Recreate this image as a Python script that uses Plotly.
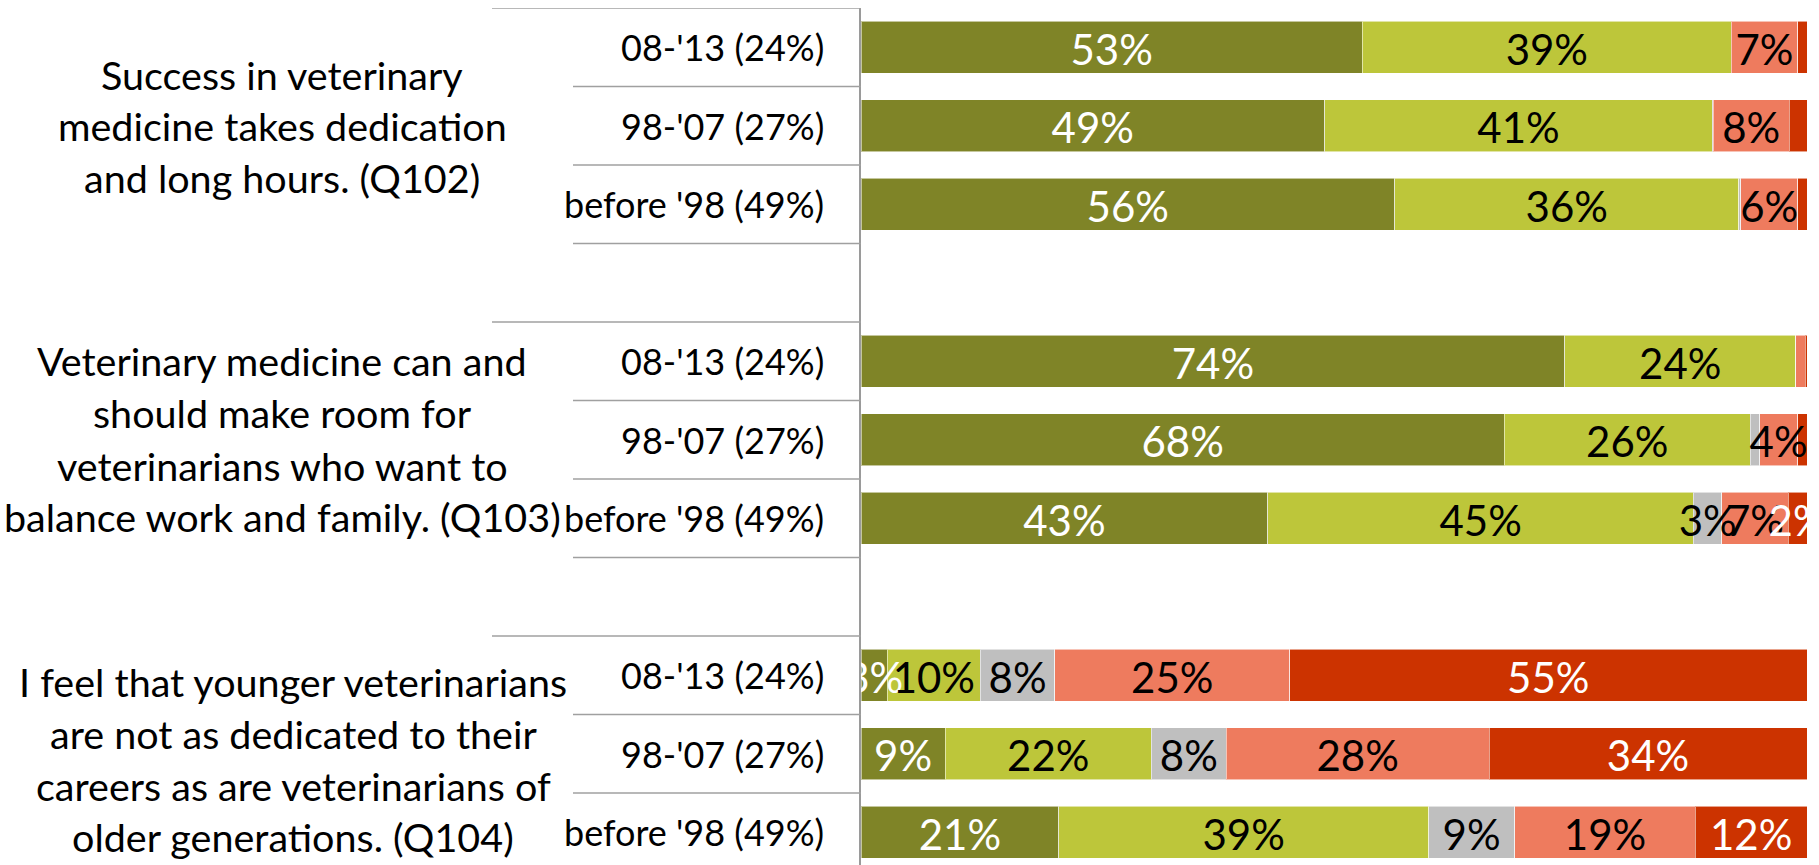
import plotly.graph_objects as go

# ---------------- data ----------------
cohorts = ["08-'13 (24%)", "98-'07 (27%)", "before '98 (49%)"]
questions = [
    ["Success in veterinary", "medicine takes dedication", "and long hours. (Q102)"],
    ["Veterinary medicine can and", "should make room for",
     "veterinarians who want to", "balance work and family. (Q103)"],
    ["I feel that younger veterinarians", "are not as dedicated to their",
     "careers as are veterinarians of", "older generations. (Q104)"],
]
series_names = ["Strongly agree", "Agree", "Neutral", "Disagree", "Strongly disagree"]

# rows top->bottom: Q102 x3, Q103 x3, Q104 x3
strongly_agree    = [53, 49, 56.4, 74.4, 68, 43, 2.8, 8.9, 20.9]
agree             = [39, 41, 36.4, 24.4, 26, 45, 9.8, 21.8, 39.1]
neutral           = [0, 0.1, 0.2, 0, 1, 3, 7.9, 7.9, 9.1]
disagree          = [7, 8, 6, 1, 4, 7, 24.8, 27.8, 19.1]
strongly_disagree = [1, 1.9, 1, 0.2, 1, 2, 54.7, 33.6, 11.8]

series_values = [strongly_agree, agree, neutral, disagree, strongly_disagree]

# ---------------- styles ----------------
colors = ["#7F8427", "#BDC63A", "#BFBFBF", "#EE7B5E", "#CC3300"]
text_colors = ["white", "black", "black", "black", "white"]
FONT = "Lato, Carlito, Calibri, sans-serif"

# slot positions (one empty slot between question groups)
row_pos = []
for g in range(3):
    for r in range(3):
        row_pos.append(g * 4 + r)

fig = go.Figure()
for name, vals, col in zip(series_names, series_values, colors):
    fig.add_trace(go.Bar(
        y=row_pos, x=vals, orientation="h", name=name,
        marker=dict(color=col, line=dict(color="rgba(255,255,255,0.55)", width=1)),
        hoverinfo="skip",
    ))

# data labels drawn on top of all bars (centred in each stacked segment)
LABEL_DY = 0.09  # slight downward nudge (visual centring of digits)
lab_x, lab_y, lab_t, lab_c = [], [], [], []
for r, p in enumerate(row_pos):
    cum = 0
    for vals, tcol in zip(series_values, text_colors):
        v = vals[r]
        if v >= 2:
            lab_x.append(cum + v / 2)
            lab_y.append(p + LABEL_DY)
            lab_t.append(f"{v:.0f}%")
            lab_c.append(tcol)
        cum += v
fig.add_trace(go.Scatter(
    x=lab_x, y=lab_y, text=lab_t, mode="text", textposition="middle center",
    textfont=dict(family=FONT, size=42, color=lab_c), cliponaxis=True,
    hoverinfo="skip", showlegend=False,
))

L, R, T = 861, 12, 8
W, H = 1819, 865
PW = W - L - R
slot_px = 78.5
bottom_edge = 10.5 - (T + 11 * slot_px - H) / slot_px

fig.update_layout(
    barmode="stack", bargap=0.34,
    width=W, height=H,
    margin=dict(l=L, r=R, t=T, b=0, pad=0),
    paper_bgcolor="white", plot_bgcolor="white",
    showlegend=False,
    xaxis=dict(range=[0, 100], visible=False, fixedrange=True),
    yaxis=dict(range=[bottom_edge, -0.5], showticklabels=False, showgrid=False,
               zeroline=False, showline=True, linecolor="#9A9A9A", linewidth=2,
               ticks="", fixedrange=True),
    font=dict(family=FONT, color="black"),
)

def px_to_paper_x(px):
    return (px - L) / PW

def px_to_paper_y(py):
    return 1 - (py - T) / (H - T)

# separator lines
long_x0 = px_to_paper_x(492)
short_x0 = px_to_paper_x(573)
for b in [-0.5, 0.5, 1.5, 2.5, 3.5, 4.5, 5.5, 6.5, 7.5, 8.5, 9.5]:
    x0 = long_x0 if b in (-0.5, 3.5, 7.5) else short_x0
    fig.add_shape(type="line", xref="paper", yref="y", x0=x0, x1=0, y0=b, y1=b,
                  line=dict(color="#A0A0A0", width=1.5), layer="above")

# cohort labels
for i, p in enumerate(row_pos):
    fig.add_annotation(text=cohorts[i % 3], xref="paper", yref="y",
                       x=px_to_paper_x(826), y=p, xanchor="right", yanchor="middle",
                       showarrow=False, font=dict(family=FONT, size=36, color="black"))

# question labels (one annotation per line)
line_centers = [[74, 125.5, 177], [361, 413, 465, 516], [681, 733, 785, 836]]
text_centers = [282, 282, 293]
for q, lines in enumerate(questions):
    for ln, yc in zip(lines, line_centers[q]):
        fig.add_annotation(text=ln, xref="paper", yref="paper",
                           x=px_to_paper_x(text_centers[q]), y=px_to_paper_y(yc),
                           xanchor="center", yanchor="middle", showarrow=False,
                           font=dict(family=FONT, size=39.5, color="black"))

fig.write_html("out.html", config={"displayModeBar": False},
               post_script="document.body.style.margin='0';document.body.style.padding='0';")
